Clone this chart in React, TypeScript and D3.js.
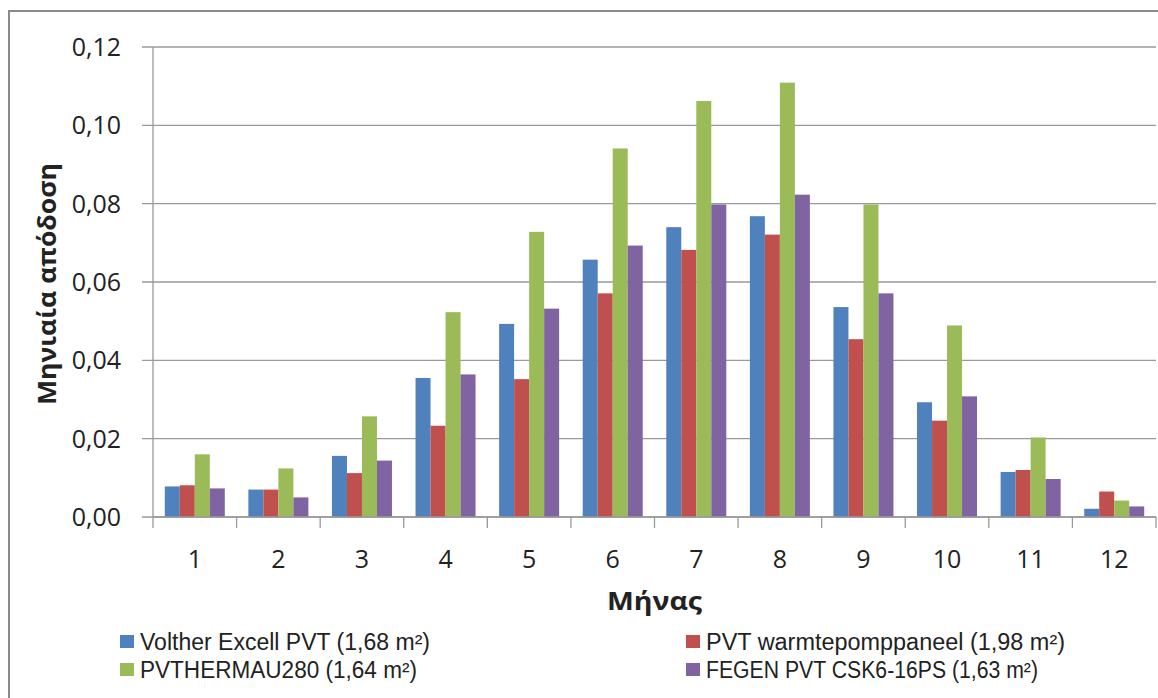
import React from "react";
import * as d3 from "d3";

const months = ["1", "2", "3", "4", "5", "6", "7", "8", "9", "10", "11", "12"];
const seriesNames = [
  "Volther Excell PVT (1,68 m²)",
  "PVT warmtepomppaneel (1,98 m²)",
  "PVTHERMAU280 (1,64 m²)",
  "FEGEN PVT CSK6-16PS (1,63 m²)",
];
const seriesColors = ["#4F81BD", "#C0504D", "#9BBB59", "#8064A2"];
const volther = [0.0078, 0.0070, 0.0156, 0.0355, 0.0493, 0.0657, 0.0740, 0.0768, 0.0536, 0.0293, 0.0115, 0.0021];
const warmte = [0.0081, 0.0070, 0.0112, 0.0233, 0.0352, 0.0571, 0.0682, 0.0721, 0.0454, 0.0246, 0.0120, 0.0065];
const pvthermau = [0.0160, 0.0124, 0.0257, 0.0523, 0.0728, 0.0941, 0.1062, 0.1109, 0.0798, 0.0489, 0.0203, 0.0042];
const fegen = [0.0073, 0.0050, 0.0144, 0.0364, 0.0532, 0.0693, 0.0798, 0.0823, 0.0571, 0.0308, 0.0097, 0.0027];
const yTicks = [0, 0.02, 0.04, 0.06, 0.08, 0.1, 0.12];
const yTitle = "Μηνιαία απόδοση";
const xTitle = "Μήνας";

const seriesValues = [volther, warmte, pvthermau, fegen];

const W = 1158;
const H = 698;
const left = 153;
const right = 1156;
const top = 47;
const bottom = 517;
const font = "'Open Sans', 'DejaVu Sans', sans-serif";
const legendFont = "'Liberation Sans', Arial, sans-serif";
const textColor = "#222";
const gridColor = "#9a9a9a";

const legendLayout = [
  { x: 120, y: 650, len: 290 },
  { x: 686, y: 650, len: 359 },
  { x: 120, y: 678, len: 277 },
  { x: 686, y: 678, len: 332 },
];

export default function App() {
  const pad = 0.282;
  const x = d3.scaleBand<string>().domain(months).range([left, right]).paddingInner(pad).paddingOuter(pad / 2);
  const xs = d3.scaleBand<number>().domain([0, 1, 2, 3]).range([0, x.bandwidth()]).padding(0);
  const y = d3.scaleLinear().domain([0, 0.12]).range([bottom, top]);
  const fmt = (v: number) => d3.format(".2f")(v).replace(".", ",");
  const step = x.step();
  const boundaries = months.map((m) => (x(m) as number) - (pad * step) / 2).concat([right]);

  return (
    <svg width={W} height={H} style={{ position: "absolute", left: 0, top: 0, background: "#fff" }}>
      <rect x={9} y={11} width={W + 20} height={H + 20} fill="#fff" stroke="#8a8a8a" strokeWidth={2} />
      {yTicks.map((t) => (
        <g key={t}>
          <line x1={142} x2={right} y1={y(t)} y2={y(t)} stroke={gridColor} strokeWidth={1.3} />
          <text x={121} y={y(t)} dy="0.36em" textAnchor="end" fontFamily={font} fontSize={25} fill={textColor}>
            {fmt(t)}
          </text>
        </g>
      ))}
      <line x1={left} x2={left} y1={top} y2={bottom} stroke={gridColor} strokeWidth={1.3} />
      {seriesValues.map((vals, si) =>
        vals.map((v, i) => (
          <rect
            key={`${si}-${i}`}
            x={(x(months[i]) as number) + (xs(si) as number)}
            y={y(v)}
            width={xs.bandwidth()}
            height={bottom - y(v)}
            fill={seriesColors[si]}
          />
        ))
      )}
      <line x1={left} x2={right} y1={bottom} y2={bottom} stroke={gridColor} strokeWidth={1.3} />
      {boundaries.map((bx, i) => (
        <line key={i} x1={bx} x2={bx} y1={bottom} y2={bottom + 11} stroke={gridColor} strokeWidth={1.3} />
      ))}
      {months.map((m) => (
        <text key={m} x={(x(m) as number) + x.bandwidth() / 2} y={568} textAnchor="middle" fontFamily={font} fontSize={25} fill={textColor}>
          {m}
        </text>
      ))}
      <text
        transform={`translate(56,284) rotate(-90)`}
        textAnchor="middle"
        fontFamily={font}
        fontWeight="bold"
        fontSize={25}
        fill={textColor}
        textLength={242}
        lengthAdjust="spacingAndGlyphs"
      >
        {yTitle}
      </text>
      <text
        x={(left + right) / 2}
        y={610}
        textAnchor="middle"
        fontFamily={font}
        fontWeight="bold"
        fontSize={25}
        fill={textColor}
        textLength={95}
        lengthAdjust="spacingAndGlyphs"
      >
        {xTitle}
      </text>
      {seriesNames.map((name, i) => {
        const L = legendLayout[i];
        return (
          <g key={name}>
            <rect x={L.x} y={L.y - 15} width={14} height={13} fill={seriesColors[i]} />
            <text
              x={L.x + 20}
              y={L.y}
              fontFamily={legendFont}
              fontSize={23}
              fill={textColor}
              textLength={L.len}
              lengthAdjust="spacingAndGlyphs"
            >
              {name}
            </text>
          </g>
        );
      })}
    </svg>
  );
}
